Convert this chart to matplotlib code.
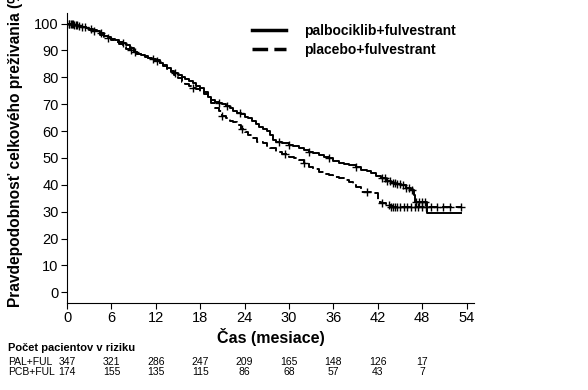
import matplotlib.pyplot as plt
import numpy as np
from matplotlib.lines import Line2D

plt.rcParams['font.family'] = ['Liberation Sans', 'DejaVu Sans']

# Kaplan-Meier krivky odčítané z obrázka (čas v mesiacoch, prežívanie v %)
pal_time = [0, 0.5, 1, 1.5, 2, 2.5, 3, 3.5, 4, 4.5, 5, 5.5, 6, 6.5, 7, 7.5, 8, 8.5,
            9, 9.5, 10, 10.5, 11, 11.5, 12, 12.5, 13, 13.5, 14, 14.5, 15, 15.5, 16,
            16.5, 17, 17.5, 18, 18.5, 19, 19.5, 20, 20.5, 21, 21.5, 22, 22.5, 23,
            23.5, 24, 24.5, 25, 25.5, 26, 26.5, 27, 27.5, 27.8, 28.2, 29, 30, 30.5,
            31.3, 32, 32.7, 33.3, 34, 34.7, 35.4, 36, 36.7, 37.5, 38.1, 39, 39.7,
            40.5, 41.1, 41.8, 42.4, 43.1, 43.8, 44.5, 45.1, 45.8, 46.5, 46.9, 47.1,
            48.6, 53.3]
pal_surv = [100, 99.7, 99.4, 99.1, 98.9, 98.5, 98.0, 97.6, 97.2, 96.4, 95.5, 95.0,
            94.4, 93.8, 93.2, 92.6, 92.0, 91.0, 89.5, 88.8, 88.3, 87.8, 87.3, 86.9,
            86.4, 85.5, 84.5, 83.4, 82.3, 81.6, 80.9, 80.1, 79.4, 78.8, 78.0, 76.9,
            75.9, 74.5, 72.8, 71.6, 70.8, 70.4, 69.9, 69.2, 68.5, 67.6, 66.8, 66.2,
            65.4, 64.8, 63.9, 62.8, 61.7, 60.8, 60.0, 58.5, 56.7, 56.1, 55.5, 54.9,
            54.3, 53.6, 53.0, 52.4, 51.8, 51.1, 50.5, 49.9, 49.0, 48.0, 47.6, 47.4,
            46.8, 45.5, 45.0, 44.3, 43.4, 42.4, 41.5, 40.6, 40.2, 39.9, 39.0, 38.1,
            36.2, 33.6, 29.6, 29.6]
pcb_time = [0, 0.5, 1, 1.5, 2, 2.5, 3, 3.5, 4, 4.5, 5, 5.5, 6, 6.5, 7, 7.5, 8, 8.5,
            9, 9.5, 10, 10.5, 11, 11.5, 12, 12.5, 13, 13.5, 14, 14.5, 15, 15.5, 16,
            16.5, 17, 17.5, 18, 18.5, 19, 19.5, 20, 20.5, 21, 21.5, 22, 22.5, 23,
            23.5, 24, 24.5, 25, 25.7, 26.5, 27, 27.5, 28.2, 29, 30, 30.7, 31.3, 32,
            32.7, 33.3, 34, 34.7, 35.4, 36, 36.7, 37.4, 38.1, 38.6, 39, 39.7, 41.1,
            42, 42.4, 43.1, 43.8, 53.3]
pcb_surv = [100, 99.7, 99.4, 99.0, 98.7, 98.3, 97.8, 97.2, 96.6, 95.8, 95.0, 94.5,
            93.9, 93.2, 92.4, 91.4, 90.4, 90.0, 89.4, 88.6, 88.0, 87.6, 87.1, 86.6,
            86.0, 85.2, 84.3, 83.2, 81.9, 80.9, 79.6, 78.3, 77.6, 76.8, 76.2, 75.5,
            74.7, 73.8, 72.5, 70.5, 68.6, 67.3, 65.8, 64.8, 63.8, 63.2, 62.3, 60.8,
            59.5, 58.4, 57.4, 56.1, 55.6, 54.6, 53.6, 52.4, 51.5, 50.5, 49.8, 49.3,
            48.2, 46.8, 45.9, 44.9, 44.2, 43.7, 43.0, 42.4, 41.8, 41.2, 40.0, 39.3,
            37.4, 36.9, 33.7, 33.1, 32.5, 31.8, 31.8]

# cenzúrované pozorovania
pal_cens = [0.2, 0.5, 0.8, 1.2, 1.6, 2.4, 3.3, 4.6, 7.6, 9.2, 11.6, 14.6, 20.6,
            21.6, 23.4, 28.6, 30.0, 32.7, 35.4, 39.0, 42.6, 43.0, 43.3, 43.6, 44.0,
            44.3, 44.6, 45.0, 45.4, 45.8, 46.2, 46.6, 47.2, 47.6, 48.0, 48.4]
pcb_cens = [0.3, 0.7, 1.0, 1.4, 2.0, 3.6, 5.6, 8.6, 12.2, 17.0, 21.0, 23.7, 29.5,
            32.0, 40.5, 42.6, 43.5, 43.8, 44.0, 44.3, 44.6, 45.0, 45.5, 46.0, 46.5,
            47.0, 47.5, 48.0, 48.5, 49.2, 50.0, 50.8, 51.8, 53.3]

# počet pacientov v riziku
risk_months = [0, 6, 12, 18, 24, 30, 36, 42, 48]
pal_risk = [347, 321, 286, 247, 209, 165, 148, 126, 17]
pcb_risk = [174, 155, 135, 115, 86, 68, 57, 43, 7]


def step_value(times, surv, t):
    idx = np.searchsorted(times, t, side='right') - 1
    return np.asarray(surv)[idx]


fig = plt.figure(figsize=(5.88, 3.9), dpi=100)
ax = fig.add_axes([0.114, 0.223, 0.692, 0.744])

ax.step(pal_time, pal_surv, where='post', color='black', lw=1.4)
ax.step(pcb_time, pcb_surv, where='post', color='black', lw=1.4, dashes=(5, 2))
ax.plot(pal_cens, step_value(pal_time, pal_surv, pal_cens), '+', color='black',
        ms=6, mew=1.0)
ax.plot(pcb_cens, step_value(pcb_time, pcb_surv, pcb_cens), '+', color='black',
        ms=6, mew=1.0)

ax.set_xlim(0, 55)
ax.set_ylim(-4, 104)
ax.set_xticks(range(0, 55, 6))
ax.set_yticks(range(0, 101, 10))
ax.spines['top'].set_visible(False)
ax.spines['right'].set_visible(False)
ax.tick_params(direction='out', length=4, width=0.8, labelsize=10.5, pad=2)

ax.set_xlabel('Čas (mesiace)', fontsize=11.5, fontweight='bold', labelpad=2)
fig.text(0.026, 0.213, 'Pravdepodobnosť celkového preživania (%)', rotation=90,
         ha='center', va='bottom', fontsize=11.2, fontweight='bold')

handles = [Line2D([], [], color='black', lw=2.5),
           Line2D([], [], color='black', lw=2.5, dashes=(4.5, 1.8))]
ax.legend(handles, ['palbociklib+fulvestrant', 'placebo+fulvestrant'],
          loc='upper left', bbox_to_anchor=(0.425, 1.005), frameon=False,
          handlelength=2.4, handletextpad=1.3, labelspacing=0.35,
          prop={'weight': 'bold', 'size': 10})

# tabuľka rizika
fig.text(8 / 588, 1 - 348 / 390, 'Počet pacientov v riziku', fontsize=8,
         fontweight='bold', va='center', ha='left')
fig.text(8 / 588, 1 - 362 / 390, 'PAL+FUL', fontsize=7.5, va='center', ha='left')
fig.text(8 / 588, 1 - 372 / 390, 'PCB+FUL', fontsize=7.5, va='center', ha='left')
tr = ax.get_xaxis_transform()
y_pal = (1 - 362 / 390 - 0.223) / 0.744
y_pcb = (1 - 372 / 390 - 0.223) / 0.744
for m, a, b in zip(risk_months, pal_risk, pcb_risk):
    ax.text(m, y_pal, str(a), transform=tr, ha='center', va='center',
            fontsize=7.5, clip_on=False)
    ax.text(m, y_pcb, str(b), transform=tr, ha='center', va='center',
            fontsize=7.5, clip_on=False)

fig.savefig('out.png', dpi=100)
